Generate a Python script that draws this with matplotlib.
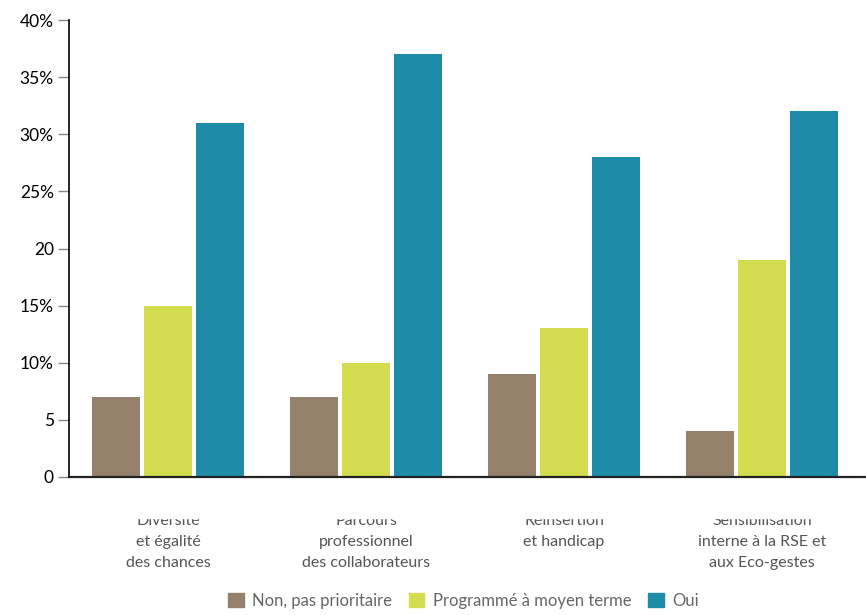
import matplotlib.pyplot as plt
import matplotlib.patches as mpatches
import numpy as np

plt.rcParams['font.family'] = ['Lato', 'DejaVu Sans']

# data
categories = ["Diversité\net égalité\ndes chances",
              "Parcours\nprofessionnel\ndes collaborateurs",
              "Réinsertion\net handicap",
              "Sensibilisation\ninterne à la RSE et\naux Eco-gestes"]
series_names = ["Non, pas prioritaire", "Programmé à moyen terme", "Oui"]
non_prio = [7, 7, 9, 4]
moyen_terme = [15, 10, 13, 19]
oui = [31, 37, 28, 32]
colors = ['#95806b', '#d3dc4e', '#1e8ca8']
yticks = [0, 5, 10, 15, 20, 25, 30, 35, 40]
ytick_labels = ['0', '5', '10%', '15%', '20', '25%', '30%', '35%', '40%']

fig = plt.figure(figsize=(8.66, 6.15), dpi=100)
ax = fig.add_axes([0.0797, 0.2244, 0.919, 0.743])

x = np.arange(len(categories))
w = 0.242
step = 0.263
for i, vals in enumerate([non_prio, moyen_terme, oui]):
    ax.bar(x + (i - 1) * step, vals, width=w, color=colors[i], label=series_names[i], zorder=2)

ax.set_xlim(-0.5, 3.52)
ax.set_ylim(0, 40)
ax.set_yticks(yticks)
ax.set_yticklabels(ytick_labels, fontsize=12.5)
ax.tick_params(axis='y', length=8, color='#888888', width=1, pad=3)
ax.tick_params(axis='x', length=0)
ax.set_xticks([])
for s in ['top', 'right']:
    ax.spines[s].set_visible(False)
ax.spines['left'].set_linewidth(1.2)
ax.spines['bottom'].set_linewidth(1.6)
ax.spines['bottom'].set_color('#222222')

# category labels under the axis
for xi, lab in zip(x, categories):
    ax.text(xi, -3.25, lab, ha='center', va='top', fontsize=11.5, color='#555555',
            linespacing=1.65, transform=ax.transData, clip_on=False)

# white band hiding the top of the first label line
fig.patches.append(mpatches.Rectangle((0, 1 - 518 / 615), 1, 20 / 615,
                                      transform=fig.transFigure, color='white', zorder=5))

handles = [mpatches.Patch(color=c) for c in colors]
fig.legend(handles, series_names, loc='lower center', bbox_to_anchor=(0.535, -0.014),
           ncol=3, frameon=False, fontsize=12, handlelength=0.95, handleheight=0.95,
           handletextpad=0.5, columnspacing=1.0, labelcolor='#666666')

fig.savefig('out.png', dpi=100)
